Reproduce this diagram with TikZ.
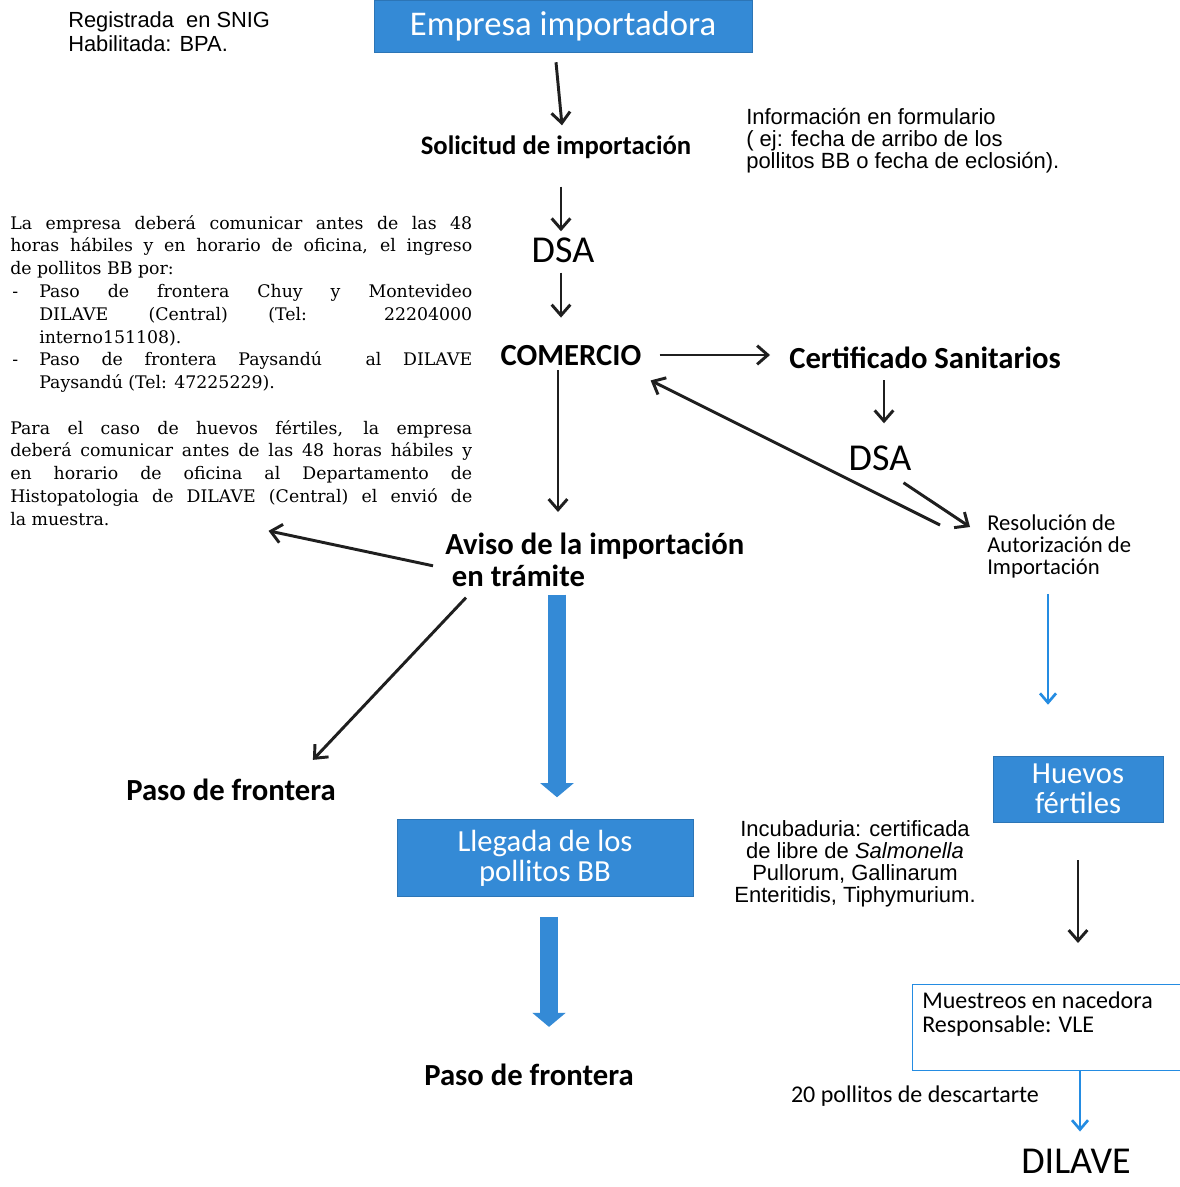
\documentclass[tikz,border=0pt]{standalone}
\usepackage{fontspec}
\setmainfont{Carlito}
\newfontfamily\arialfont{Liberation Sans}
\newfontfamily\notefont{DejaVu Serif}
\usetikzlibrary{arrows.meta,calc}
\definecolor{boxblue}{RGB}{52,138,214}
\definecolor{linkblue}{RGB}{36,140,226}
\tikzset{
    bluebox/.style={fill=boxblue, draw=boxblue!85!black, text=white, align=center,
        font=\fontsize{23pt}{22.5pt}\selectfont, inner sep=0pt},
    stepname/.style={inner sep=0pt, font=\bfseries\fontsize{23pt}{23.5pt}\selectfont},
    dsaname/.style={inner sep=0pt, font=\fontsize{28.5pt}{30pt}\selectfont},
    arialnote/.style={inner sep=0pt, align=left, font=\arialfont\fontsize{16.5pt}{16.5pt}\selectfont},
    serifnote/.style={inner sep=0pt, anchor=north west, text width=346.5pt, align=justify,
        font=\notefont\fontsize{13pt}{17.1pt}\selectfont},
    blk/.style={draw=black!88, line width=2.2pt, -{Straight Barb[length=8pt,width=14pt]}},
    fatblue/.style={draw=boxblue, line width=13pt, -{Triangle[length=10.5pt,width=25pt,line width=0pt]}},
    thinblue/.style={draw=linkblue, line width=2pt, -{Straight Barb[length=7pt,width=12pt]}},
}
\begin{document}
\begin{tikzpicture}[x=0.75pt,y=-0.75pt]
\useasboundingbox[fill=white] (0,0) rectangle (1179,1187);

% main column
\node[bluebox, font=\fontsize{26pt}{26pt}\selectfont, minimum width=283.5pt, minimum height=39pt] (emp) at (563,26) {Empresa importadora};
\node[stepname, font=\bfseries\fontsize{20pt}{20pt}\selectfont] (solicitud) at (556,147) {Solicitud de importación};
\node[dsaname] (dsaA) at (563,250) {DSA};
\node[stepname] (comercio) at (571,356) {COMERCIO};
\node[stepname] (certif) at (925,358) {Certificado Sanitarios};
\node[dsaname] (dsaB) at (880,458) {DSA};
\node[inner sep=0pt, anchor=north west, align=left, font=\fontsize{17pt}{16.5pt}\selectfont] (resol) at (987,514)
    {Resolución de\\Autorización de\\Importación};
\node[stepname, anchor=north west, align=left] (aviso) at (445,533) {Aviso de la importación\\\hspace{5pt}en trámite};
\node[stepname] (pasoA) at (231,790) {Paso de frontera};
\node[bluebox, minimum width=222pt, minimum height=57.75pt] (llegada) at (545,858) {Llegada de los\\pollitos BB};
\node[stepname] (pasoB) at (529,1075) {Paso de frontera};

% right column
\node[bluebox, minimum width=127.5pt, minimum height=49.5pt] (huevos) at (1078,789) {Huevos\\fértiles};
\node[anchor=north west, draw=linkblue, line width=1.1pt, minimum width=205pt, minimum height=64.5pt, inner sep=0pt] (muestreo) at (912,984) {};
\node[anchor=north west, inner sep=0pt, align=left, font=\fontsize{18pt}{18pt}\selectfont] (muestreotxt) at ($(muestreo.north west)+(10,8)$)
    {Muestreos en nacedora\\Responsable: VLE};
\node[inner sep=0pt, font=\fontsize{18pt}{18pt}\selectfont] (descarte) at (915,1096) {20 pollitos de descartarte};
\node[dsaname] (dilave) at (1076,1161) {DILAVE};

% notes
\node[arialnote, anchor=north west, font=\arialfont\fontsize{16.4pt}{18pt}\selectfont] (registro) at (68,11) {Registrada\ \ en SNIG\\Habilitada: BPA.};
\node[arialnote, anchor=north west] (info) at (746,108)
    {Información en formulario\\( ej: fecha de arribo de los\\pollitos BB o fecha de eclosión).};
\node[arialnote, align=center] (incub) at (855,864)
    {Incubaduria: certificada\\de libre de \textit{Salmonella}\\Pullorum, Gallinarum\\Enteritidis, Tiphymurium.};
\node[serifnote] (notaA) at (10,215) {%
    La empresa deberá comunicar antes de las 48\linebreak
    horas hábiles y en horario de oficina, el ingreso\linebreak
    de pollitos BB por:\par
    \hangindent=21.75pt\hangafter=1\noindent\makebox[21.75pt][l]{\hspace{1.5pt}-}Paso de frontera Chuy y Montevideo\linebreak
    DILAVE (Central) (Tel: 22204000\linebreak
    interno151108).\par
    \hangindent=21.75pt\hangafter=1\noindent\makebox[21.75pt][l]{\hspace{1.5pt}-}Paso de frontera Paysandú\ \ al DILAVE\linebreak
    Paysandú (Tel: 47225229).\par};
\node[serifnote] (notaB) at (10,420) {%
    Para el caso de huevos fértiles, la empresa\linebreak
    deberá comunicar antes de las 48 horas hábiles y\linebreak
    en horario de oficina al Departamento de\linebreak
    Histopatologia de DILAVE (Central) el envió de\linebreak
    la muestra.\par};

% connectors
\draw[blk] ($(emp.south)+(-7,10)$) -- ($(solicitud.north)+(6,-10)$);
\draw[blk] ($(solicitud.south)+(5,28)$) -- ($(dsaA.north)+(-2,-6)$);
\draw[blk] ($(dsaA.south)+(-2,10)$) -- ($(comercio.north)+(-10,-28)$);
\draw[blk] ($(comercio.east)+(18,-1)$) -- ($(certif.west)+(-19,-3)$);
\draw[blk] ($(certif.south)+(-41,11)$) -- ($(dsaB.north)+(4,-22)$);
\draw[blk] ($(dsaB.south east)+(-8,12)$) -- ($(resol.north west)+(-17,13)$);
\draw[blk] ($(resol.north west)+(-47,11)$) -- ($(comercio.south east)+(9,14)$);
\draw[blk] ($(comercio.south)+(-13,4)$) -- ($(aviso.north west)+(113,-21)$);
\draw[blk] ($(aviso.west)+(-12,6)$) -- ($(notaB.south east)+(-204,5)$);
\draw[blk] ($(aviso.south west)+(21,11)$) -- ($(pasoA.north east)+(-23,-19)$);
\draw[fatblue] ($(aviso.south west)+(112,8)$) -- ($(llegada.north)+(12,-22)$);
\draw[fatblue] ($(llegada.south)+(4,20)$) -- ($(pasoB.north)+(20,-37)$);
\draw[thinblue] ($(resol.south west)+(61,16)$) -- ($(huevos.north)+(-30,-51)$);
\draw[blk] ($(huevos.south)+(0,38)$) -- ($(muestreo.north west)+(166,-41)$);
\draw[thinblue] ($(muestreo.south west)+(168,0)$) -- ($(dilave.north)+(4,-17)$);
\end{tikzpicture}
\end{document}
